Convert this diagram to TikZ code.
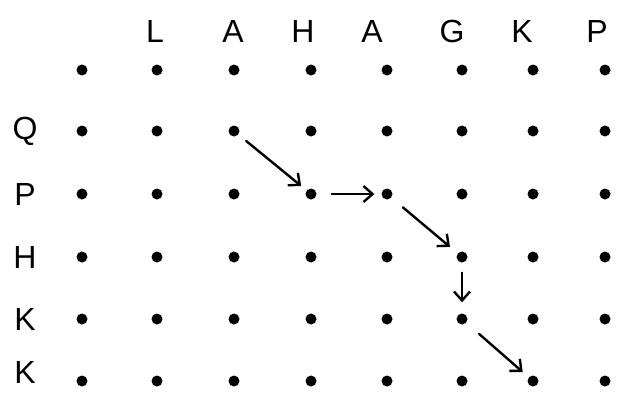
\documentclass[tikz,border=0pt]{standalone}
\usepackage{fontspec}
\setmainfont{Liberation Sans}
\usetikzlibrary{arrows.meta}
\begin{document}
\begin{tikzpicture}[x=1pt,y=-1pt,
  dot/.style={circle,fill=black,inner sep=0pt,minimum size=11pt},
  lbl/.style={font=\fontsize{32}{32}\selectfont,inner sep=0pt},
  arr/.style={line width=2.4pt,-{Straight Barb[length=9pt,width=16pt,line width=2.4pt]},line cap=round}]
\useasboundingbox (0,0) rectangle (628,392);
% header letters
\foreach \t/\x [count=\i] in {L/155,A/233,H/303,A/372,G/452,K/522,P/597}
  \node[lbl] (h\i) at (\x,31) {\t};
% row labels
\foreach \t/\y [count=\i] in {Q/131,P/194,H/257,K/319,K/372}
  \node[lbl] (l\i) at (25,\y) {\t};
% dots
\foreach \y [count=\r from 0] in {70,131,194,257,319,381}
  \foreach \x [count=\c] in {82,157,234,311,387,462,533,605}
    \node[dot] (d\r-\c) at (\x,\y) {};
% arrows
\draw[arr,shorten <=10pt,shorten >=7pt] (d1-3) -- (d2-4);
\draw[arr,shorten <=15pt,shorten >=7pt] (d2-4) -- (d2-5);
\draw[arr,shorten <=15pt,shorten >=10pt] (d2-5) -- (d3-6);
\draw[arr,shorten <=10pt,shorten >=11pt] (d3-6) -- (d4-6);
\draw[arr,shorten <=17pt,shorten >=8pt] (d4-6) -- (d5-7);
\end{tikzpicture}
\end{document}
